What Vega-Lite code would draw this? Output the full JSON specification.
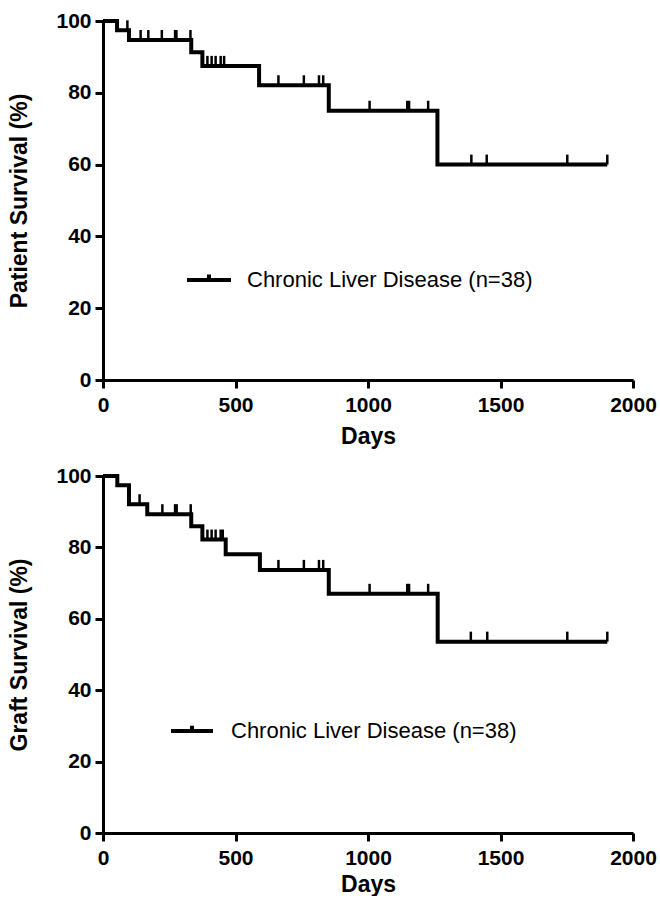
{
  "$schema": "https://vega.github.io/schema/vega-lite/v6.json",
  "background": "white",
  "padding": {"left": 8, "top": 10, "right": 4, "bottom": 0},
  "spacing": 17,
  "datasets": {
    "pSteps": [
      {"day": 0, "surv": 100, "group": "Chronic Liver Disease (n=38)"},
      {"day": 53, "surv": 97.4, "group": "Chronic Liver Disease (n=38)"},
      {"day": 98, "surv": 94.7, "group": "Chronic Liver Disease (n=38)"},
      {"day": 333, "surv": 91.3, "group": "Chronic Liver Disease (n=38)"},
      {"day": 375, "surv": 87.5, "group": "Chronic Liver Disease (n=38)"},
      {"day": 589, "surv": 82.1, "group": "Chronic Liver Disease (n=38)"},
      {"day": 852, "surv": 75.0, "group": "Chronic Liver Disease (n=38)"},
      {"day": 1262, "surv": 60.0, "group": "Chronic Liver Disease (n=38)"},
      {"day": 1903, "surv": 60.0, "group": "Chronic Liver Disease (n=38)"}
    ],
    "pCens": [
      {"day": 92, "surv": 97.4},
      {"day": 142, "surv": 94.7}, {"day": 171, "surv": 94.7}, {"day": 222, "surv": 94.7},
      {"day": 272, "surv": 94.7}, {"day": 277, "surv": 94.7}, {"day": 330, "surv": 94.7},
      {"day": 394, "surv": 87.5}, {"day": 410, "surv": 87.5}, {"day": 425, "surv": 87.5},
      {"day": 444, "surv": 87.5}, {"day": 457, "surv": 87.5},
      {"day": 662, "surv": 82.1}, {"day": 758, "surv": 82.1}, {"day": 815, "surv": 82.1}, {"day": 831, "surv": 82.1},
      {"day": 1006, "surv": 75.0}, {"day": 1148, "surv": 75.0}, {"day": 1155, "surv": 75.0}, {"day": 1227, "surv": 75.0},
      {"day": 1390, "surv": 60.0}, {"day": 1448, "surv": 60.0}, {"day": 1752, "surv": 60.0}, {"day": 1903, "surv": 60.0}
    ],
    "gSteps": [
      {"day": 0, "surv": 100, "group": "Chronic Liver Disease (n=38)"},
      {"day": 54, "surv": 97.4, "group": "Chronic Liver Disease (n=38)"},
      {"day": 98, "surv": 92.1, "group": "Chronic Liver Disease (n=38)"},
      {"day": 167, "surv": 89.3, "group": "Chronic Liver Disease (n=38)"},
      {"day": 333, "surv": 85.9, "group": "Chronic Liver Disease (n=38)"},
      {"day": 375, "surv": 82.2, "group": "Chronic Liver Disease (n=38)"},
      {"day": 463, "surv": 78.1, "group": "Chronic Liver Disease (n=38)"},
      {"day": 592, "surv": 73.7, "group": "Chronic Liver Disease (n=38)"},
      {"day": 852, "surv": 67.0, "group": "Chronic Liver Disease (n=38)"},
      {"day": 1263, "surv": 53.6, "group": "Chronic Liver Disease (n=38)"},
      {"day": 1903, "surv": 53.6, "group": "Chronic Liver Disease (n=38)"}
    ],
    "gCens": [
      {"day": 138, "surv": 92.1},
      {"day": 224, "surv": 89.3}, {"day": 272, "surv": 89.3}, {"day": 278, "surv": 89.3}, {"day": 331, "surv": 89.3},
      {"day": 394, "surv": 82.2}, {"day": 410, "surv": 82.2}, {"day": 425, "surv": 82.2}, {"day": 444, "surv": 82.2}, {"day": 452, "surv": 82.2},
      {"day": 662, "surv": 73.7}, {"day": 758, "surv": 73.7}, {"day": 815, "surv": 73.7}, {"day": 831, "surv": 73.7},
      {"day": 1006, "surv": 67.0}, {"day": 1148, "surv": 67.0}, {"day": 1155, "surv": 67.0}, {"day": 1227, "surv": 67.0},
      {"day": 1388, "surv": 53.6}, {"day": 1450, "surv": 53.6}, {"day": 1752, "surv": 53.6}, {"day": 1903, "surv": 53.6}
    ]
  },
  "resolve": {"scale": {"color": "independent"}, "legend": {"color": "independent"}},
  "vconcat": [
    {
      "width": 530,
      "height": 359,
      "layer": [
        {
          "data": {"name": "pSteps"},
          "mark": {"type": "line", "interpolate": "step-after", "strokeWidth": 4, "color": "black"},
          "encoding": {
            "x": {"field": "day", "type": "quantitative", "scale": {"domain": [0, 2000], "nice": false}, "axis": {"title": "Days", "values": [0, 500, 1000, 1500, 2000], "format": "d"}},
            "y": {"field": "surv", "type": "quantitative", "scale": {"domain": [0, 100], "nice": false}, "axis": {"title": "Patient Survival (%)", "values": [0, 20, 40, 60, 80, 100]}},
            "color": {"field": "group", "type": "nominal", "scale": {"range": ["black"]},
              "legend": {"title": null, "orient": "none", "legendX": 82, "legendY": 235, "symbolType": "M-1,0H1M0,0V-0.25", "symbolSize": 1936, "symbolStrokeWidth": 4, "symbolStrokeColor": "black", "labelFontSize": 22, "labelFont": "Liberation Sans", "labelColor": "black", "labelOffset": 14, "labelLimit": 0, "padding": 0}}
          }
        },
        {
          "data": {"name": "pCens"},
          "mark": {"type": "tick", "orient": "vertical", "size": 10, "thickness": 2.5, "yOffset": -5, "color": "black", "opacity": 1},
          "encoding": {
            "x": {"field": "day", "type": "quantitative"},
            "y": {"field": "surv", "type": "quantitative"}
          }
        }
      ]
    },
    {
      "width": 530,
      "height": 357,
      "layer": [
        {
          "data": {"name": "gSteps"},
          "mark": {"type": "line", "interpolate": "step-after", "strokeWidth": 4, "color": "black"},
          "encoding": {
            "x": {"field": "day", "type": "quantitative", "scale": {"domain": [0, 2000], "nice": false}, "axis": {"title": "Days", "values": [0, 500, 1000, 1500, 2000], "format": "d", "titlePadding": 5}},
            "y": {"field": "surv", "type": "quantitative", "scale": {"domain": [0, 100], "nice": false}, "axis": {"title": "Graft Survival (%)", "values": [0, 20, 40, 60, 80, 100]}},
            "color": {"field": "group", "type": "nominal", "scale": {"range": ["black"]},
              "legend": {"title": null, "orient": "none", "legendX": 66, "legendY": 232, "symbolType": "M-1,0H1M0,0V-0.25", "symbolSize": 1764, "symbolStrokeWidth": 4, "symbolStrokeColor": "black", "labelFontSize": 22, "labelFont": "Liberation Sans", "labelColor": "black", "labelOffset": 16, "labelLimit": 0, "padding": 0}}
          }
        },
        {
          "data": {"name": "gCens"},
          "mark": {"type": "tick", "orient": "vertical", "size": 10, "thickness": 2.5, "yOffset": -5, "color": "black", "opacity": 1},
          "encoding": {
            "x": {"field": "day", "type": "quantitative"},
            "y": {"field": "surv", "type": "quantitative"}
          }
        }
      ]
    }
  ],
  "config": {
    "view": {"stroke": null},
    "axis": {
      "grid": false,
      "domainColor": "black",
      "domainWidth": 3,
      "tickColor": "black",
      "tickWidth": 3,
      "tickSize": 8,
      "labelFont": "Liberation Sans",
      "labelFontWeight": "bold",
      "labelFontSize": 21,
      "labelColor": "black",
      "labelPadding": 4,
      "titleFont": "Liberation Sans",
      "titleFontWeight": "bold",
      "titleFontSize": 23,
      "titleColor": "black"
    },
    "axisX": {"titlePadding": 10, "labelPadding": 6, "labelFlush": false},
    "axisY": {"titlePadding": 24, "labelFlush": false}
  }
}
